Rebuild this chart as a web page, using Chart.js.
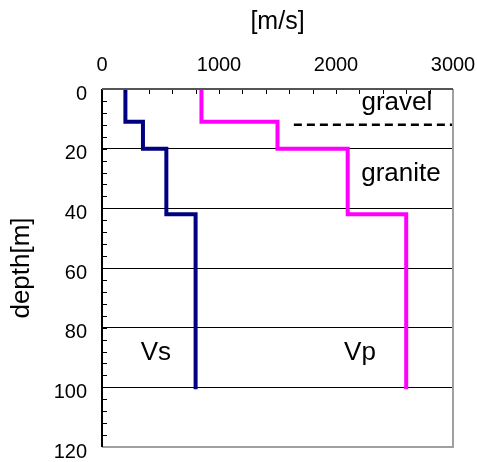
<!DOCTYPE html>
<html>
<head>
<meta charset="utf-8">
<script src="https://cdn.jsdelivr.net/npm/chart.js@4"></script>
<style>
  html, body { margin: 0; padding: 0; background: #fff; }
  #c { display: block; }
</style>
</head>
<body>
<canvas id="c" width="477" height="462"></canvas>
<script>
  /* ── data: step profiles (velocity [m/s] vs depth [m]) ── */
  const vsDepth = [0, 11, 11, 20, 20, 42, 42, 100];
  const vsVel   = [200, 200, 350, 350, 550, 550, 800, 800];
  const vpDepth = [0, 11, 11, 20, 20, 42, 42, 100];
  const vpVel   = [850, 850, 1500, 1500, 2100, 2100, 2600, 2600];
  const layerDepth = [12, 12];        // gravel / granite boundary
  const layerVel   = [1640, 3000];
  const xTicks = [0, 1000, 2000, 3000];
  const yTicks = [0, 20, 40, 60, 80, 100, 120];

  const FONT = '"Liberation Sans", Arial, sans-serif';

  function pts(xs, ys) {
    return xs.map(function (x, i) { return { x: x, y: ys[i] }; });
  }

  // fixed axis box; drop the label-overflow padding so the plot area stays put
  function fixBox(size) {
    return function (s) {
      if (s.isHorizontal()) s.height = size; else s.width = size;
      s.paddingLeft = s.paddingRight = s.paddingTop = s.paddingBottom = 0;
    };
  }

  /* ── labels, inner tick marks and frame ── */
  const extras = {
    id: 'extras',
    afterDatasetsDraw: function (chart) {
      const ctx = chart.ctx, a = chart.chartArea;
      const xs = chart.scales.x, ys = chart.scales.y;
      ctx.save();
      // minor ticks pointing inward
      ctx.strokeStyle = '#000';
      ctx.lineWidth = 1;
      ctx.beginPath();
      for (let v = 200; v < 3000; v += 200) {
        const px = Math.round(xs.getPixelForValue(v)) + 0.5;
        ctx.moveTo(px, a.top); ctx.lineTo(px, a.top + 5);
      }
      for (let d = 4; d < 120; d += 4) {
        const py = Math.round(ys.getPixelForValue(d)) + 0.5;
        ctx.moveTo(a.left, py); ctx.lineTo(a.left + 5, py);
      }
      ctx.stroke();
      // frame: dark top/left, grey right/bottom
      ctx.lineWidth = 2;
      ctx.strokeStyle = '#a0a0a0';
      ctx.beginPath();
      ctx.moveTo(a.right, a.top); ctx.lineTo(a.right, a.bottom); ctx.lineTo(a.left, a.bottom);
      ctx.stroke();
      ctx.strokeStyle = '#000';
      ctx.beginPath();
      ctx.moveTo(a.left, a.bottom); ctx.lineTo(a.left, a.top);
      ctx.stroke();
      ctx.strokeStyle = '#555';
      ctx.beginPath();
      ctx.moveTo(a.left, a.top); ctx.lineTo(a.right, a.top);
      ctx.stroke();
      // annotations
      ctx.fillStyle = '#000';
      ctx.font = '26px ' + FONT;
      ctx.textAlign = 'center';
      ctx.textBaseline = 'middle';
      chart.options.plugins.extras.labels.forEach(function (l) {
        ctx.fillText(l.text, xs.getPixelForValue(l.x), ys.getPixelForValue(l.y));
      });
      ctx.restore();
    }
  };

  new Chart(document.getElementById('c'), {
    type: 'scatter',
    data: {
      datasets: [
        { label: 'Vs', data: pts(vsVel, vsDepth), showLine: true, borderColor: '#000080', borderWidth: 4, pointRadius: 0, borderCapStyle: 'square', borderJoinStyle: 'miter' },
        { label: 'Vp', data: pts(vpVel, vpDepth), showLine: true, borderColor: '#ff00ff', borderWidth: 4, pointRadius: 0, borderCapStyle: 'square', borderJoinStyle: 'miter' },
        { label: 'boundary', data: pts(layerVel, layerDepth), showLine: true, borderColor: '#000', borderWidth: 2.5, borderDash: [8, 5], pointRadius: 0 },
      ],
    },
    options: {
      responsive: false,
      animation: false,
      layout: { padding: { top: 0, left: 0, right: 24, bottom: 15 } },
      plugins: {
        legend: { display: false },
        tooltip: { enabled: false },
        extras: {
          labels: [
            { text: 'gravel', x: 2520, y: 4.5 },
            { text: 'granite', x: 2555, y: 28.3 },
            { text: 'Vs', x: 460, y: 88.4 },
            { text: 'Vp', x: 2205, y: 88.4 },
          ],
        },
      },
      scales: {
        x: {
          type: 'linear', position: 'top', min: 0, max: 3000,
          afterBuildTicks: function (s) { s.ticks = xTicks.map(function (v) { return { value: v }; }); },
          afterFit: fixBox(89),
          grid: { display: false, drawTicks: false },
          border: { display: false },
          ticks: { color: '#000', padding: 12, maxRotation: 0, font: { family: FONT, size: 20 }, callback: function (v) { return String(v); } },
          title: { display: true, text: '[m/s]', color: '#000', padding: { top: 10, bottom: 0 }, font: { family: FONT, size: 25, lineHeight: 1 } },
        },
        y: {
          type: 'linear', reverse: true, min: 0, max: 120,
          afterBuildTicks: function (s) { s.ticks = yTicks.map(function (v) { return { value: v }; }); },
          afterFit: fixBox(102),
          grid: {
            drawTicks: false, lineWidth: 1,
            color: function (c) { return (c.tick && (c.tick.value === 0 || c.tick.value === 120)) ? 'rgba(0,0,0,0)' : '#000'; },
          },
          border: { display: false },
          ticks: { color: '#000', padding: 15, labelOffset: 5, font: { family: FONT, size: 20 }, callback: function (v) { return String(v); } },
          title: { display: true, text: 'depth[m]', color: '#000', padding: { top: 9, bottom: 0 }, font: { family: FONT, size: 26, lineHeight: 1 } },
        },
      },
    },
    plugins: [extras],
  });
</script>
</body>
</html>
